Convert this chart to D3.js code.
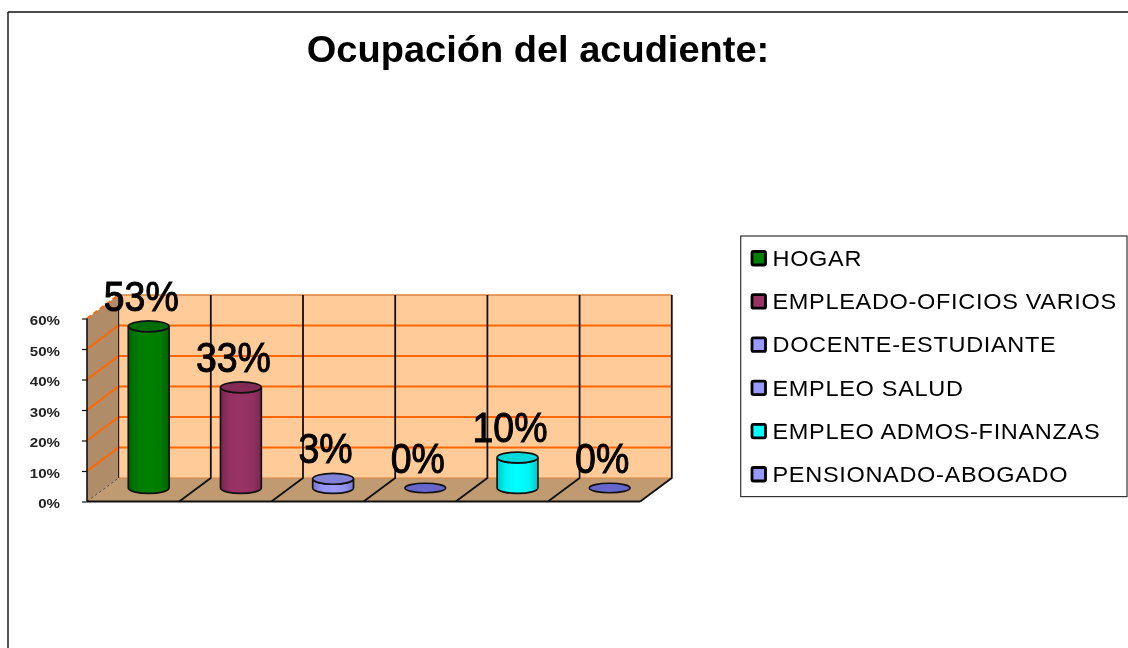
<!DOCTYPE html>
<html><head><meta charset="utf-8">
<script src="https://cdn.jsdelivr.net/npm/d3@7"></script>
<style>html,body{margin:0;padding:0;background:#fff}svg{display:block;filter:blur(0.55px)}text{font-family:"Liberation Sans",Arial,sans-serif}</style>
</head><body><svg id="c" width="1128" height="648"></svg>
<script>
const categories=["HOGAR","EMPLEADO-OFICIOS VARIOS","DOCENTE-ESTUDIANTE","EMPLEO SALUD","EMPLEO ADMOS-FINANZAS","PENSIONADO-ABOGADO"];
const values=[53,33,3,0,10,0];
const labels=["53%","33%","3%","0%","10%","0%"];
const colors=["#008000","#993366","#9999ff","#6666cc","#00ffff","#6666cc"];
const legendColors=["#008000","#993366","#9999ff","#9999ff","#00ffff","#9999ff"];
const ticks=[0,10,20,30,40,50,60];
const title="Ocupación del acudiente:";

const svg=d3.select("#c");
const defs=svg.append("defs");
const shade=(c,k)=>d3.color(c).darker(k).formatHex();
colors.forEach((c,i)=>{
  const g=defs.append("linearGradient").attr("id","g"+i);
  [[0,shade(c,.7)],[.22,shade(c,.12)],[.5,c],[.78,shade(c,.12)],[1,shade(c,.7)]].forEach(s=>g.append("stop").attr("offset",s[0]).attr("stop-color",s[1]));
});

svg.append("line").attr("x1",8).attr("x2",8).attr("y1",12).attr("y2",648).attr("stroke","#555").attr("stroke-width",2);
svg.append("line").attr("x1",8).attr("x2",1128).attr("y1",12).attr("y2",12).attr("stroke","#111").attr("stroke-width",1.3);

const root=svg.append("g");
root.append("text").attr("text-anchor","middle").attr("font-size",37).attr("font-weight","bold").attr("fill","#000")
  .attr("transform","translate(538,62) scale(1.027,1)").text(title);

const dx=31.6, dy=-23.5;
const y=d3.scaleLinear().domain([0,60]).range([501.5,318.5]);
const x=d3.scaleBand().domain(categories).range([87,640.2]);
const X0=87,X1=640.2,Y0=y(0),Y60=y(60);

const pts=a=>a.map(p=>p.join(",")).join(" ");
const chart=root.append("g");
chart.append("polygon").attr("points",pts([[X0+dx,Y60+dy],[X1+dx,Y60+dy],[X1+dx,Y0+dy],[X0+dx,Y0+dy]])).attr("fill","#ffcc99");
chart.append("polygon").attr("points",pts([[X0,Y0],[X0+dx,Y0+dy],[X0+dx,Y60+dy],[X0,Y60]])).attr("fill","#b08c68");
chart.append("polygon").attr("points",pts([[X0,Y0],[X1,Y0],[X1+dx,Y0+dy],[X0+dx,Y0+dy]])).attr("fill","#c09a70");

ticks.forEach(t=>{
  if(t===0){return;}
  const yy=y(t);
  chart.append("line").attr("x1",X0).attr("y1",yy).attr("x2",X0+dx).attr("y2",yy+dy).attr("stroke","#ff6600").attr("stroke-width",2).attr("stroke-dasharray",t===60?"5 3":null);
  chart.append("line").attr("x1",X0+dx).attr("y1",yy+dy).attr("x2",X1+dx).attr("y2",yy+dy).attr("stroke",t===60?"#d9843f":"#ff6600").attr("stroke-width",t===60?1.6:2);
});
chart.append("line").attr("x1",X0+dx).attr("x2",X1+dx).attr("y1",Y0+dy).attr("y2",Y0+dy).attr("stroke","#d9843f").attr("stroke-width",1);
categories.forEach((c,i)=>{
  const fx=x(c)+x.bandwidth();
  chart.append("polyline").attr("points",pts([[fx,Y0],[fx+dx,Y0+dy],[fx+dx,Y60+dy]])).attr("fill","none").attr("stroke","#111").attr("stroke-width",1.8);
});
chart.append("line").attr("x1",X0+dx).attr("x2",X0+dx).attr("y1",Y60+dy).attr("y2",Y0+dy).attr("stroke","#222").attr("stroke-width",1.2);
chart.append("line").attr("x1",X0).attr("y1",Y0).attr("x2",X0+dx).attr("y2",Y0+dy).attr("stroke","#555").attr("stroke-width",1).attr("stroke-dasharray","3 2");
chart.append("line").attr("x1",X0).attr("x2",X0).attr("y1",Y60).attr("y2",Y0).attr("stroke","#111").attr("stroke-width",1.6);
chart.append("line").attr("x1",X0).attr("x2",X1).attr("y1",Y0).attr("y2",Y0).attr("stroke","#111").attr("stroke-width",1.8);

const axis=d3.axisLeft(y).tickValues(ticks).tickSize(5).tickFormat(d=>d+"%");
const ax=chart.append("g").attr("transform",`translate(${X0},0)`).call(axis);
ax.select(".domain").remove();
ax.selectAll("line").attr("stroke","#111").attr("stroke-width",1.2);
ax.selectAll("text").attr("x",0).attr("dy",null).attr("y",0).attr("font-size",13.5).attr("font-weight","bold").attr("fill","#222")
  .attr("text-anchor","end").attr("transform","translate(-27,6) scale(1.12,0.98)");

const rx=20.4, ry=5.4, baseY=-13.5;
categories.forEach((c,i)=>{
  const cx=x(c)+x.bandwidth()/2+(148.7-(87+x.bandwidth()/2));
  const by=Y0+baseY;
  const h=y(0)-y(values[i]);
  const ty=by-h;
  const g=chart.append("g");
  if(values[i]>0){
    g.append("path").attr("d",`M${cx-rx},${ty}V${by}A${rx},${ry} 0 0 0 ${cx+rx},${by}V${ty}A${rx},${ry} 0 0 1 ${cx-rx},${ty}Z`)
      .attr("fill",`url(#g${i})`).attr("stroke","#111").attr("stroke-width",1.7);
    g.append("ellipse").attr("cx",cx).attr("cy",ty).attr("rx",rx).attr("ry",ry).attr("fill",shade(colors[i],.45)).attr("stroke","#111").attr("stroke-width",1.7);
  } else {
    g.append("ellipse").attr("cx",cx).attr("cy",by).attr("rx",rx).attr("ry",ry-.6).attr("fill",colors[i]).attr("stroke","#111").attr("stroke-width",1.6);
  }
  chart.append("text").attr("text-anchor","middle").attr("font-size",37.5).attr("fill","#000").attr("stroke","#000").attr("stroke-width",0.9)
    .attr("transform",`translate(${cx-7.5},${ty-15.5}) scale(1,1.14)`).text(labels[i]);
});

const legend=root.append("g");
legend.append("rect").attr("x",740.7).attr("y",236).attr("width",386.3).attr("height",260.6).attr("fill","#fff").attr("stroke","#333").attr("stroke-width",1.2);
const ly=d3.scalePoint().domain(categories).range([258,474]);
categories.forEach((c,i)=>{
  legend.append("rect").attr("x",752).attr("y",ly(c)-6.5).attr("width",13.5).attr("height",13.5).attr("rx",1.5).attr("fill",legendColors[i]).attr("stroke","#000").attr("stroke-width",2.8);
  legend.append("text").attr("font-size",22.4).attr("letter-spacing",0.65).attr("fill","#000")
    .attr("transform",`translate(772.5,${ly(c)+8}) scale(1.05,1)`).text(c);
});
</script></body></html>
